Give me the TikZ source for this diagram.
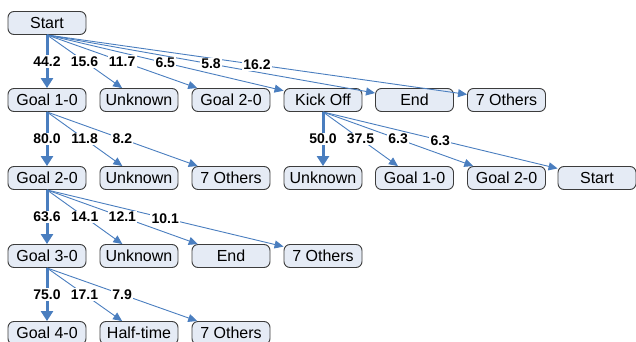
\documentclass[tikz,border=0pt]{standalone}
\usepackage{fontspec}
\setmainfont{Liberation Sans}
\usetikzlibrary{arrows.meta}
\definecolor{edgeblue}{HTML}{4A7EBF}
\definecolor{boxfill}{HTML}{E5EBF5}
\definecolor{boxline}{HTML}{3C3C3C}
\tikzset{
  state/.style={draw=boxline, fill=boxfill, rounded corners=6pt, line width=0.9pt,
    minimum width=78pt, minimum height=23pt, inner sep=0pt,
    font=\fontsize{16}{18}\selectfont},
  edge/.style={draw=edgeblue, line width=0.9pt, -{Triangle[length=9pt,width=8pt]}},
  mainedge/.style={draw=edgeblue, line width=3pt, -{Triangle[length=10pt,width=12pt]}},
  lbl/.style={fill=white, inner sep=1.2pt, pos=0.5, font=\fontsize{14}{16}\selectfont\bfseries}
}
\begin{document}
\begin{tikzpicture}[x=1pt,y=-1pt]
\useasboundingbox (0,0) rectangle (636,342);
\clip (0,0) rectangle (636,342);
% row 1
\node[state] (s0) at (47,23) {Start};
% row 2
\node[state] (g10) at (47,100) {Goal 1-0};
\node[state] (unk1) at (139,100) {Unknown};
\node[state] (g20) at (231,100) {Goal 2-0};
\node[state] (ko) at (323,100) {Kick Off};
\node[state] (end1) at (414.5,100) {End};
\node[state] (oth1) at (506.5,100) {7 Others};
% row 3
\node[state] (g20b) at (47,178) {Goal 2-0};
\node[state] (unk2) at (139,178) {Unknown};
\node[state] (oth2) at (231,178) {7 Others};
\node[state] (unk3) at (323,178) {Unknown};
\node[state] (g10b) at (414.5,178) {Goal 1-0};
\node[state] (g20c) at (506.5,178) {Goal 2-0};
\node[state] (st2) at (597,178) {Start};
% row 4
\node[state] (g30) at (47,256) {Goal 3-0};
\node[state] (unk4) at (139,256) {Unknown};
\node[state] (end2) at (231,256) {End};
\node[state] (oth3) at (323,256) {7 Others};
% row 5
\node[state] (g40) at (47,333) {Goal 4-0};
\node[state] (ht) at (139,333) {Half-time};
\node[state] (oth4) at (231,333) {7 Others};

% edges
\draw[mainedge] (s0.south) -- (g10.north);
\foreach \t in {unk1,g20,ko,end1,oth1} \draw[edge] (s0.south) -- (\t);
\draw[mainedge] (g10.south) -- (g20b.north);
\foreach \t in {unk2,oth2} \draw[edge] (g10.south) -- (\t);
\draw[mainedge] (ko.south) -- (unk3.north);
\foreach \t in {g10b,g20c,st2} \draw[edge] (ko.south) -- (\t);
\draw[mainedge] (g20b.south) -- (g30.north);
\foreach \t in {unk4,end2,oth3} \draw[edge] (g20b.south) -- (\t);
\draw[mainedge] (g30.south) -- (g40.north);
\foreach \t in {ht,oth4} \draw[edge] (g30.south) -- (\t);

% labels at the middle of each drawn edge
\foreach \s/\t/\v in {s0/g10/44.2, s0/unk1/15.6, s0/g20/11.7, s0/ko/6.5, s0/end1/5.8, s0/oth1/16.2,
  g10/g20b/80.0, g10/unk2/11.8, g10/oth2/8.2,
  ko/unk3/50.0, ko/g10b/37.5, ko/g20c/6.3, ko/st2/6.3,
  g20b/g30/63.6, g20b/unk4/14.1, g20b/end2/12.1, g20b/oth3/10.1,
  g30/g40/75.0, g30/ht/17.1, g30/oth4/7.9}
  \path (\s.south) -- (\t) node[lbl] {\v};
\end{tikzpicture}
\end{document}
